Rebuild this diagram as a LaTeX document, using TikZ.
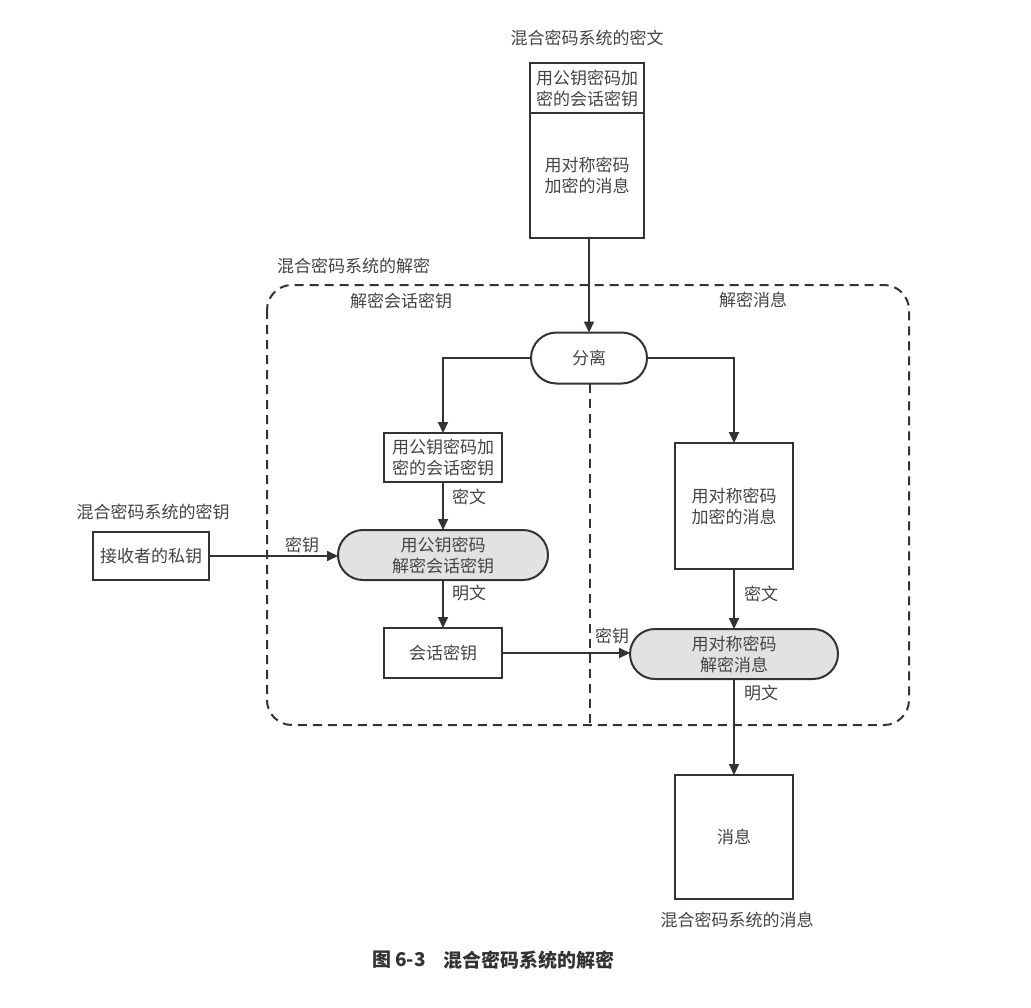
\documentclass[tikz,border=0pt]{standalone}
\usepackage{fontspec}
\setmainfont{Noto Sans CJK SC}
\usetikzlibrary{arrows.meta,shapes.misc,calc}
\definecolor{ink}{HTML}{333333}
\definecolor{txt}{HTML}{444444}
\definecolor{fillg}{HTML}{E2E2E2}
\tikzset{
  base/.style={font=\fontsize{17}{21}\selectfont, text=txt, align=center, inner sep=0pt, outer sep=0pt},
  boxn/.style={base, draw=ink, line width=2pt, rectangle},
  pill/.style={base, draw=ink, line width=2pt, rounded rectangle},
  graypill/.style={pill, fill=fillg},
  lbl/.style={base},
  arr/.style={draw=ink, line width=2pt, -{Triangle[length=11pt,width=10pt]}},
  dashline/.style={draw=ink, line width=2pt, dash pattern=on 9pt off 6pt},
}
\begin{document}
\begin{tikzpicture}[x=1pt,y=-1pt]
\useasboundingbox[fill=white] (0,0) rectangle (1031,1007);

% top input
\node[lbl] (inlbl) at (587,38) {混合密码系统的密文};
\node[boxn, minimum width=114pt, minimum height=50pt] (topU) at (587,88) {用公钥密码加\\密的会话密钥};
\node[boxn, minimum width=114pt, minimum height=125pt] (topL) at (587,175.5) {用对称密码\\加密的消息};

% frame
\node[lbl, anchor=west] (frlbl) at (277,266) {混合密码系统的解密};
\draw[dashline, rounded corners=25pt] (267,285) rectangle (909,725);
\node[lbl] (lpart) at (401,301) {解密会话密钥};
\node[lbl] (rpart) at (753,300) {解密消息};

% split
\node[pill, minimum width=116pt, minimum height=51pt] (sep) at (589,358) {分离};
\coordinate (divb) at (590,725);
\draw[dashline] (sep.south -| divb) -- (divb);

% left lane
\node[boxn, minimum width=118pt, minimum height=49pt] (A) at (443,457.5) {用公钥密码加\\密的会话密钥};
\node[graypill, minimum width=210pt, minimum height=50pt] (B) at (443,555) {用公钥密码\\解密会话密钥};
\node[boxn, minimum width=118pt, minimum height=50pt] (C) at (443,653) {会话密钥};

% key input
\node[lbl] (klbl) at (153,512) {混合密码系统的密钥};
\node[boxn, minimum width=116pt, minimum height=48pt] (D) at (151,556) {接收者的私钥};

% right lane
\node[boxn, minimum width=118pt, minimum height=126pt] (E) at (734,506) {用对称密码\\加密的消息};
\node[graypill, minimum width=208pt, minimum height=50pt] (F) at (734,654) {用对称密码\\解密消息};
\node[boxn, minimum width=118pt, minimum height=124pt] (G) at (734,837) {消息};
\node[lbl] (outlbl) at (737,920) {混合密码系统的消息};

% connectors
\draw[arr] (topL.south -| sep.north) -- (sep.north);
\draw[arr] (sep.west) -| (A.north);
\draw[arr] (sep.east) -| (E.north);
\draw[arr] (A.south) -- (B.north);
\draw[arr] (D.east) -- (D.east -| B.west);
\draw[arr] (B.south) -- (C.north);
\draw[arr] (C.east) -- (C.east -| F.west);
\draw[arr] (E.south) -- (F.north);
\draw[arr] (F.south) -- (G.north);

% edge labels
\node[lbl] (l1) at (469,497) {密文};
\node[lbl] (l2) at (302,545) {密钥};
\node[lbl] (l3) at (469,593) {明文};
\node[lbl] (l4) at (612,636) {密钥};
\node[lbl] (l5) at (761,594) {密文};
\node[lbl] (l6) at (761,693) {明文};

% caption
\node[base, text=ink, anchor=west, font=\fontsize{19}{23}\selectfont\bfseries] (cap1) at (372,960) {图 6-3};
\node[base, text=ink, anchor=west, font=\fontsize{19}{23}\selectfont\bfseries] (cap2) at (443,960) {混合密码系统的解密};
\end{tikzpicture}
\end{document}
